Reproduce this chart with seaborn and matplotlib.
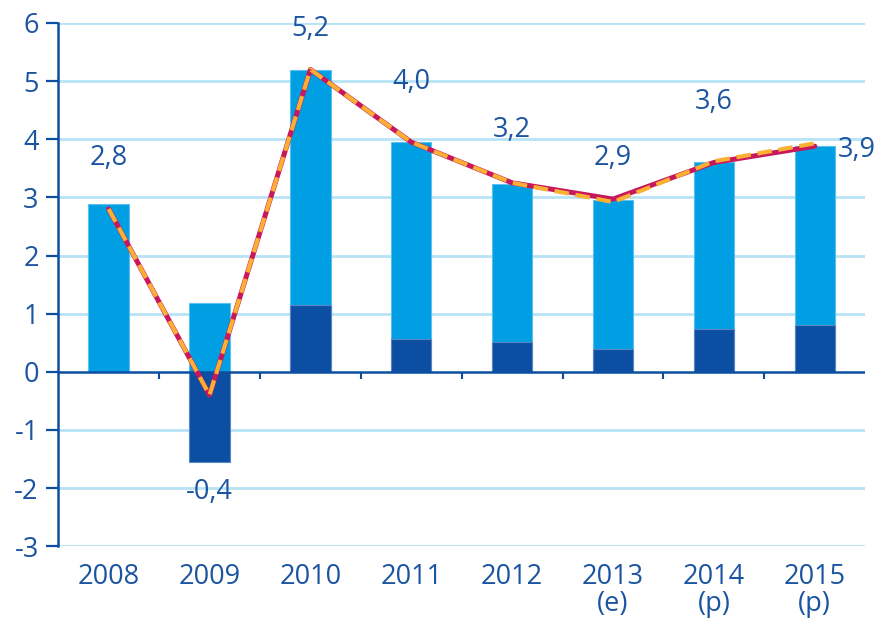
import numpy as np
import pandas as pd
import matplotlib
matplotlib.use("Agg")
import matplotlib.pyplot as plt
import seaborn as sns

years = ["2008", "2009", "2010", "2011", "2012", "2013\n(e)", "2014\n(p)", "2015\n(p)"]
total_bar = [2.89, 1.19, 5.19, 3.95, 3.23, 2.95, 3.61, 3.88]
dark_bar = [0.0, -1.56, 1.15, 0.56, 0.52, 0.40, 0.74, 0.81]
line_red = [2.80, -0.40, 5.20, 3.95, 3.25, 2.97, 3.60, 3.88]
line_dash = [2.80, -0.40, 5.20, 3.95, 3.25, 2.92, 3.62, 3.93]
labels = ["2,8", "-0,4", "5,2", "4,0", "3,2", "2,9", "3,6", "3,9"]
label_y = [3.68, -2.06, 5.90, 4.98, 4.16, 3.68, 4.64, 3.81]

light = "#009FE3"
dark = "#0B4EA2"
txt = "#1B54A0"
grid = "#B8E3F6"

sns.set_theme(style="white")
plt.rcParams['font.family'] = ['Open Sans', 'DejaVu Sans']
plt.rcParams['axes.unicode_minus'] = False

df = pd.DataFrame({"year": years, "total": total_bar, "dark": dark_bar})

fig = plt.figure(figsize=(8.82, 6.2), dpi=100)
ax = fig.add_axes([0.066, 0.119, 0.915, 0.844])

for y in range(-3, 7):
    if y != 0:
        ax.axhline(y, color=grid, lw=2, zorder=0)

sns.barplot(data=df, x="year", y="total", color=light, width=0.4, saturation=1,
            edgecolor="#5BC0EE", linewidth=0.8, ax=ax, zorder=2)
sns.barplot(data=df, x="year", y="dark", color=dark, width=0.4, saturation=1,
            edgecolor="#5B86C4", linewidth=0.8, ax=ax, zorder=3)

pos = np.arange(len(years))
ax.axhline(0, color=dark, lw=1.8, zorder=4)
ax.vlines(pos[:-1] + 0.5, -0.12, 0, color=dark, lw=1.5, zorder=4)

sns.lineplot(x=pos, y=line_red, color="#C8175D", lw=3.6, ax=ax, zorder=5)
sns.lineplot(x=pos, y=line_dash, color="#FBB034", lw=3.0, ax=ax, zorder=6,
             dashes=False, linestyle=(0, (3.5, 1.6)))

for i, (lab, ly) in enumerate(zip(labels, label_y)):
    xx = i + 0.42 if i == len(labels) - 1 else i
    ax.text(xx, ly, lab, color=txt, fontsize=19.5, ha="center", va="center", zorder=7)

ax.set_xlim(-0.5, 7.5)
ax.set_ylim(-3, 6)
ax.set_yticks(range(-3, 7))
ax.set_xlabel("")
ax.set_ylabel("")
for s in ["top", "right", "bottom"]:
    ax.spines[s].set_visible(False)
ax.spines["left"].set_color(dark)
ax.spines["left"].set_linewidth(1.8)
ax.tick_params(axis="y", colors=dark, labelcolor=txt, labelsize=19.5, length=9, width=1.6,
               direction="out", left=True, pad=5)
ax.tick_params(axis="x", labelcolor=txt, labelsize=19.5, length=0, pad=12)
for t in ax.get_xticklabels():
    t.set_linespacing(0.95)

fig.savefig("out.png", dpi=100)
